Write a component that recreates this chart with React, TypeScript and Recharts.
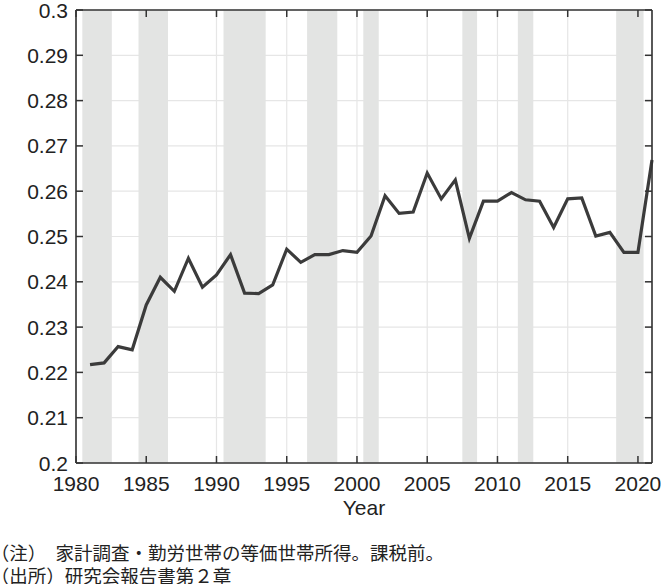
import React from 'react';
import {
  LineChart,
  Line,
  XAxis,
  YAxis,
  CartesianGrid,
  ReferenceArea,
} from 'recharts';

const YEARS = [
  1981, 1982, 1983, 1984, 1985, 1986, 1987, 1988, 1989, 1990,
  1991, 1992, 1993, 1994, 1995, 1996, 1997, 1998, 1999, 2000,
  2001, 2002, 2003, 2004, 2005, 2006, 2007, 2008, 2009, 2010,
  2011, 2012, 2013, 2014, 2015, 2016, 2017, 2018, 2019, 2020,
  2021,
];

const GINI = [
  0.2217, 0.2221, 0.2257, 0.2250, 0.2349, 0.2410, 0.2379, 0.2452, 0.2388, 0.2415,
  0.2460, 0.2375, 0.2374, 0.2393, 0.2472, 0.2443, 0.2460, 0.2460, 0.2469, 0.2465,
  0.2501, 0.2590, 0.2551, 0.2554, 0.2640, 0.2583, 0.2625, 0.2496, 0.2578, 0.2578,
  0.2597, 0.2581, 0.2578, 0.2520, 0.2583, 0.2585, 0.2501, 0.2509, 0.2465, 0.2465,
  0.2669,
];

// shaded periods (recessions), in years
const BAND_START = [1980.45, 1984.45, 1990.5, 1996.45, 2000.45, 2007.5, 2011.45, 2018.45];
const BAND_END = [1982.55, 1986.55, 1993.5, 1998.6, 2001.55, 2008.55, 2012.55, 2020.4];

const X_DOMAIN = [1980, 2021];
const Y_DOMAIN = [0.2, 0.3];
const X_TICKS = [1980, 1985, 1990, 1995, 2000, 2005, 2010, 2015, 2020];
const Y_TICKS = [0.2, 0.21, 0.22, 0.23, 0.24, 0.25, 0.26, 0.27, 0.28, 0.29, 0.3];

const NOTE_1 = '注）　家計調査・勤労世帯の等価世帯所得。課税前。';
const NOTE_2 = '出所）研究会報告書第２章';

const data = YEARS.map((year, i) => ({ year, value: GINI[i] }));

// chart layout
const CHART_W = 662;
const CHART_H = 530;
const MARGIN = { top: 10, right: 10, left: 0, bottom: 0 };
const Y_AXIS_W = 76;
const X_AXIS_H = 67;
const PLOT_TOP = MARGIN.top;
const PLOT_RIGHT = CHART_W - MARGIN.right;
const PLOT_BOTTOM = CHART_H - MARGIN.bottom - X_AXIS_H;

const AXIS = '#333333';
const FONT = '"Liberation Sans", Arial, Helvetica, sans-serif';
const TICK_LEN = 7;

const fmtY = (v: number) => String(Number(v.toFixed(2)));

// bottom tick + mirrored tick on the top edge (box axes, ticks pointing in)
function BottomTick({ x, y, payload, index }: any) {
  return (
    <g>
      {index === 0 && (
        <line x1={x} x2={PLOT_RIGHT} y1={PLOT_TOP} y2={PLOT_TOP} stroke={AXIS} strokeWidth={1.6} />
      )}
      <line x1={x} x2={x} y1={y} y2={y - TICK_LEN} stroke={AXIS} strokeWidth={1.5} />
      <line x1={x} x2={x} y1={PLOT_TOP} y2={PLOT_TOP + TICK_LEN} stroke={AXIS} strokeWidth={1.5} />
      <text x={x} y={y + 28} textAnchor="middle" fill="#222" fontSize={21} fontFamily={FONT}>
        {payload.value}
      </text>
    </g>
  );
}

// left tick + mirrored tick on the right edge
function LeftTick({ x, y, payload, index }: any) {
  return (
    <g>
      {index === 0 && (
        <line x1={PLOT_RIGHT} x2={PLOT_RIGHT} y1={y} y2={PLOT_TOP} stroke={AXIS} strokeWidth={1.6} />
      )}
      <line x1={x} x2={x + TICK_LEN} y1={y} y2={y} stroke={AXIS} strokeWidth={1.5} />
      <line x1={PLOT_RIGHT} x2={PLOT_RIGHT - TICK_LEN} y1={y} y2={y} stroke={AXIS} strokeWidth={1.5} />
      <text x={x - 8} y={y} dy="0.36em" textAnchor="end" fill="#222" fontSize={21} fontFamily={FONT}>
        {fmtY(payload.value)}
      </text>
    </g>
  );
}

export default function App() {
  return (
    <div style={{ position: 'absolute', left: 0, top: 0, width: 662, height: 584, background: '#fff' }}>
      <LineChart width={CHART_W} height={CHART_H} data={data} margin={MARGIN}>
        <CartesianGrid stroke="#e6e6e6" strokeWidth={1.2} />
        {BAND_START.map((s, i) => (
          <ReferenceArea
            key={s}
            x1={s}
            x2={BAND_END[i]}
            y1={Y_DOMAIN[0]}
            y2={Y_DOMAIN[1]}
            fill="#e3e4e3"
            fillOpacity={1}
            stroke="none"
          />
        ))}
        <Line
          type="linear"
          dataKey="value"
          stroke="#3b3b3b"
          strokeWidth={3.2}
          dot={false}
          isAnimationActive={false}
        />
        <XAxis
          dataKey="year"
          type="number"
          domain={X_DOMAIN}
          ticks={X_TICKS}
          height={X_AXIS_H}
          tickSize={0}
          tickMargin={0}
          tickLine={false}
          axisLine={{ stroke: AXIS, strokeWidth: 1.6 }}
          tick={<BottomTick />}
          interval={0}
          label={{ value: 'Year', position: 'insideBottom', offset: 15, fill: '#222', fontSize: 21, fontFamily: FONT }}
        />
        <YAxis
          type="number"
          domain={Y_DOMAIN}
          ticks={Y_TICKS}
          width={Y_AXIS_W}
          tickSize={0}
          tickMargin={0}
          tickLine={false}
          axisLine={{ stroke: AXIS, strokeWidth: 1.6 }}
          tick={<LeftTick />}
          interval={0}
        />
      </LineChart>
      <div
        style={{
          position: 'absolute',
          left: 0,
          top: 541,
          fontFamily: '"Noto Sans CJK JP", sans-serif',
          fontSize: 18.5,
          lineHeight: '23px',
          color: '#222',
          whiteSpace: 'nowrap',
        }}
      >
        <div><span style={{ fontFeatureSettings: '"halt"' }}>（</span>{NOTE_1}</div>
        <div><span style={{ fontFeatureSettings: '"halt"' }}>（</span>{NOTE_2}</div>
      </div>
    </div>
  );
}
